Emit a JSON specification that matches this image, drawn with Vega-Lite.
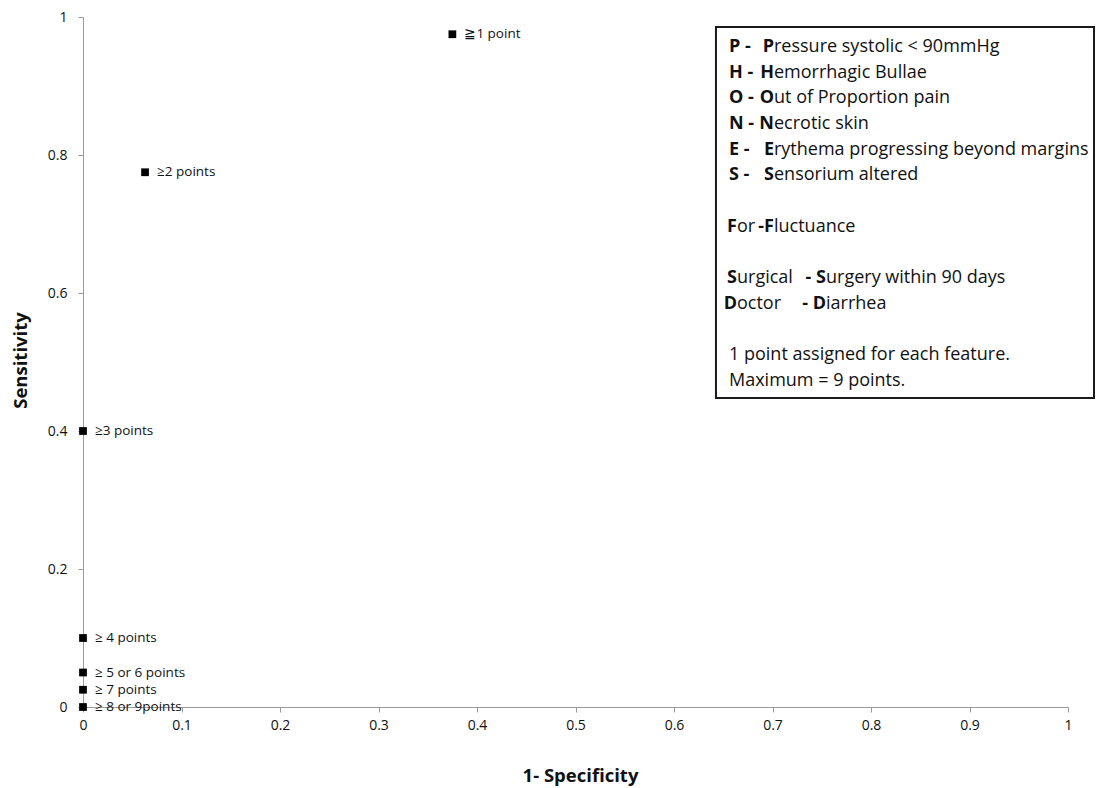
{
  "$schema": "https://vega.github.io/schema/vega-lite/v6.json",
  "autosize": "none",
  "width": 985,
  "height": 690,
  "padding": {"left": 83, "top": 17, "right": 28, "bottom": 81},
  "background": "white",
  "config": {"view": {"stroke": null}, "font": "Open Sans"},
  "datasets": {
    "roc": [
      {"fpr": 0.375, "sens": 0.975, "label": "≧1 point"},
      {"fpr": 0.063, "sens": 0.775, "label": "≥2 points"},
      {"fpr": 0.0, "sens": 0.4, "label": "≥3 points"},
      {"fpr": 0.0, "sens": 0.1, "label": "≥ 4 points"},
      {"fpr": 0.0, "sens": 0.05, "label": "≥ 5 or 6 points"},
      {"fpr": 0.0, "sens": 0.025, "label": "≥ 7 points"},
      {"fpr": 0.0, "sens": 0.0, "label": "≥ 8 or 9points"}
    ],
    "legend": [
      {"line": 0, "part": "key", "text": "P -"},
      {"line": 0, "part": "init", "text": "P"},
      {"line": 0, "part": "rest", "text": "ressure systolic < 90mmHg"},
      {"line": 1, "part": "key", "text": "H -"},
      {"line": 1, "part": "init", "text": "H"},
      {"line": 1, "part": "rest", "text": "emorrhagic Bullae"},
      {"line": 2, "part": "key", "text": "O -"},
      {"line": 2, "part": "init", "text": "O"},
      {"line": 2, "part": "rest", "text": "ut of Proportion pain"},
      {"line": 3, "part": "key", "text": "N -"},
      {"line": 3, "part": "init", "text": "N"},
      {"line": 3, "part": "rest", "text": "ecrotic skin"},
      {"line": 4, "part": "key", "text": "E -"},
      {"line": 4, "part": "init", "text": "E"},
      {"line": 4, "part": "rest", "text": "rythema progressing beyond margins"},
      {"line": 5, "part": "key", "text": "S -"},
      {"line": 5, "part": "init", "text": "S"},
      {"line": 5, "part": "rest", "text": "ensorium altered"},
      {"line": 7, "part": "init2", "text": "F"},
      {"line": 7, "part": "rest2", "text": "or"},
      {"line": 7, "part": "init", "text": "-F"},
      {"line": 7, "part": "rest", "text": "luctuance"},
      {"line": 9, "part": "init2", "text": "S"},
      {"line": 9, "part": "rest2", "text": "urgical"},
      {"line": 9, "part": "mid", "text": "- S"},
      {"line": 9, "part": "tail", "text": "urgery within 90 days"},
      {"line": 10, "part": "init2", "text": "D"},
      {"line": 10, "part": "rest2", "text": "octor"},
      {"line": 10, "part": "mid", "text": "- D"},
      {"line": 10, "part": "tail", "text": "iarrhea"},
      {"line": 12, "part": "note", "text": "1 point assigned for each feature."},
      {"line": 13, "part": "note", "text": "Maximum = 9 points."}
    ]
  },
  "resolve": {"scale": {"y": "independent"}},
  "layer": [
    {
      "data": {"values": [{}]},
      "mark": {"type": "rect", "fill": "white", "stroke": "#1a1a1a", "strokeWidth": 2},
      "encoding": {
        "x": {"datum": 0.6426, "type": "quantitative", "scale": {"domain": [0, 1], "nice": false}},
        "x2": {"datum": 1.0264},
        "y": {"datum": 0.9855, "type": "quantitative", "scale": {"domain": [0, 1], "nice": false}, "axis": null},
        "y2": {"datum": 0.4478}
      }
    },
    {
      "data": {"name": "roc"},
      "mark": {"type": "square", "size": 60, "color": "black", "opacity": 1},
      "encoding": {
        "x": {
          "field": "fpr", "type": "quantitative",
          "scale": {"domain": [0, 1], "nice": false},
          "axis": {
            "values": [0, 0.1, 0.2, 0.3, 0.4, 0.5, 0.6, 0.7, 0.8, 0.9, 1],
            "format": "~g", "grid": false, "labelFlush": false,
            "domainColor": "#999999", "tickColor": "#999999", "tickSize": 5,
            "labelColor": "#111111", "labelFont": "Open Sans", "labelFontSize": 14, "labelPadding": 6,
            "title": "1- Specificity", "titleFont": "Open Sans", "titleFontSize": 18.5, "titleFontWeight": "bold",
            "titleColor": "#111111", "titleX": 497, "titleY": 68, "titleBaseline": "middle", "titleAnchor": null, "titleAlign": "center"
          }
        },
        "y": {
          "field": "sens", "type": "quantitative",
          "scale": {"domain": [0, 1], "nice": false},
          "axis": {
            "values": [0, 0.2, 0.4, 0.6, 0.8, 1],
            "format": "~g", "grid": false, "labelFlush": false,
            "domainColor": "#999999", "tickColor": "#999999", "tickSize": 5,
            "labelColor": "#111111", "labelFont": "Open Sans", "labelFontSize": 14, "labelPadding": 11,
            "title": "Sensitivity", "titleFont": "Open Sans", "titleFontSize": 18.5, "titleFontWeight": "bold",
            "titleColor": "#111111", "titleX": -63, "titleY": 343, "titleAngle": -90, "titleBaseline": "middle", "titleAlign": "center"
          }
        }
      }
    },
    {
      "data": {"name": "roc"},
      "mark": {"type": "text", "align": "left", "baseline": "middle", "dx": 12, "font": "Open Sans", "fontSize": 13.5, "color": "#111111"},
      "encoding": {
        "x": {"field": "fpr", "type": "quantitative"},
        "y": {"field": "sens", "type": "quantitative", "scale": {"domain": [0, 1], "nice": false}, "axis": null},
        "text": {"field": "label"}
      }
    },
    {
      "data": {"name": "legend"},
      "transform": [{"filter": "datum.part === 'key'"}],
      "mark": {"type": "text", "align": "left", "baseline": "middle", "font": "Open Sans", "fontSize": 18, "fontWeight": "bold", "color": "#111111"},
      "encoding": {
        "x": {"datum": 0.65584, "type": "quantitative"},
        "y": {"field": "line", "type": "quantitative", "scale": {"domain": [-1.1677, 25.689], "reverse": true, "nice": false, "zero": false}, "axis": null},
        "text": {"field": "text"}
      }
    },
    {
      "data": {"name": "legend"},
      "transform": [{"filter": "datum.part === 'init'"}],
      "mark": {"type": "text", "align": "right", "baseline": "middle", "font": "Open Sans", "fontSize": 18, "fontWeight": "bold", "color": "#111111"},
      "encoding": {
        "x": {"datum": 0.70152, "type": "quantitative"},
        "y": {"field": "line", "type": "quantitative", "scale": {"domain": [-1.1677, 25.689], "reverse": true, "nice": false, "zero": false}, "axis": null},
        "text": {"field": "text"}
      }
    },
    {
      "data": {"name": "legend"},
      "transform": [{"filter": "datum.part === 'rest'"}],
      "mark": {"type": "text", "align": "left", "baseline": "middle", "font": "Open Sans", "fontSize": 18, "color": "#111111"},
      "encoding": {
        "x": {"datum": 0.70152, "type": "quantitative"},
        "y": {"field": "line", "type": "quantitative", "scale": {"domain": [-1.1677, 25.689], "reverse": true, "nice": false, "zero": false}, "axis": null},
        "text": {"field": "text"}
      }
    },
    {
      "data": {"name": "legend"},
      "transform": [{"filter": "datum.part === 'init2'"}],
      "mark": {"type": "text", "align": "right", "baseline": "middle", "font": "Open Sans", "fontSize": 18, "fontWeight": "bold", "color": "#111111"},
      "encoding": {
        "x": {"datum": 0.66396, "type": "quantitative"},
        "y": {"field": "line", "type": "quantitative", "scale": {"domain": [-1.1677, 25.689], "reverse": true, "nice": false, "zero": false}, "axis": null},
        "text": {"field": "text"}
      }
    },
    {
      "data": {"name": "legend"},
      "transform": [{"filter": "datum.part === 'rest2'"}],
      "mark": {"type": "text", "align": "left", "baseline": "middle", "font": "Open Sans", "fontSize": 18, "color": "#111111"},
      "encoding": {
        "x": {"datum": 0.66396, "type": "quantitative"},
        "y": {"field": "line", "type": "quantitative", "scale": {"domain": [-1.1677, 25.689], "reverse": true, "nice": false, "zero": false}, "axis": null},
        "text": {"field": "text"}
      }
    },
    {
      "data": {"name": "legend"},
      "transform": [{"filter": "datum.part === 'mid'"}],
      "mark": {"type": "text", "align": "right", "baseline": "middle", "font": "Open Sans", "fontSize": 18, "fontWeight": "bold", "color": "#111111"},
      "encoding": {
        "x": {"datum": 0.75431, "type": "quantitative"},
        "y": {"field": "line", "type": "quantitative", "scale": {"domain": [-1.1677, 25.689], "reverse": true, "nice": false, "zero": false}, "axis": null},
        "text": {"field": "text"}
      }
    },
    {
      "data": {"name": "legend"},
      "transform": [{"filter": "datum.part === 'tail'"}],
      "mark": {"type": "text", "align": "left", "baseline": "middle", "font": "Open Sans", "fontSize": 18, "color": "#111111"},
      "encoding": {
        "x": {"datum": 0.75431, "type": "quantitative"},
        "y": {"field": "line", "type": "quantitative", "scale": {"domain": [-1.1677, 25.689], "reverse": true, "nice": false, "zero": false}, "axis": null},
        "text": {"field": "text"}
      }
    },
    {
      "data": {"name": "legend"},
      "transform": [{"filter": "datum.part === 'note'"}],
      "mark": {"type": "text", "align": "left", "baseline": "middle", "font": "Open Sans", "fontSize": 18, "color": "#111111"},
      "encoding": {
        "x": {"datum": 0.65584, "type": "quantitative"},
        "y": {"field": "line", "type": "quantitative", "scale": {"domain": [-1.1677, 25.689], "reverse": true, "nice": false, "zero": false}, "axis": null},
        "text": {"field": "text"}
      }
    }
  ]
}
